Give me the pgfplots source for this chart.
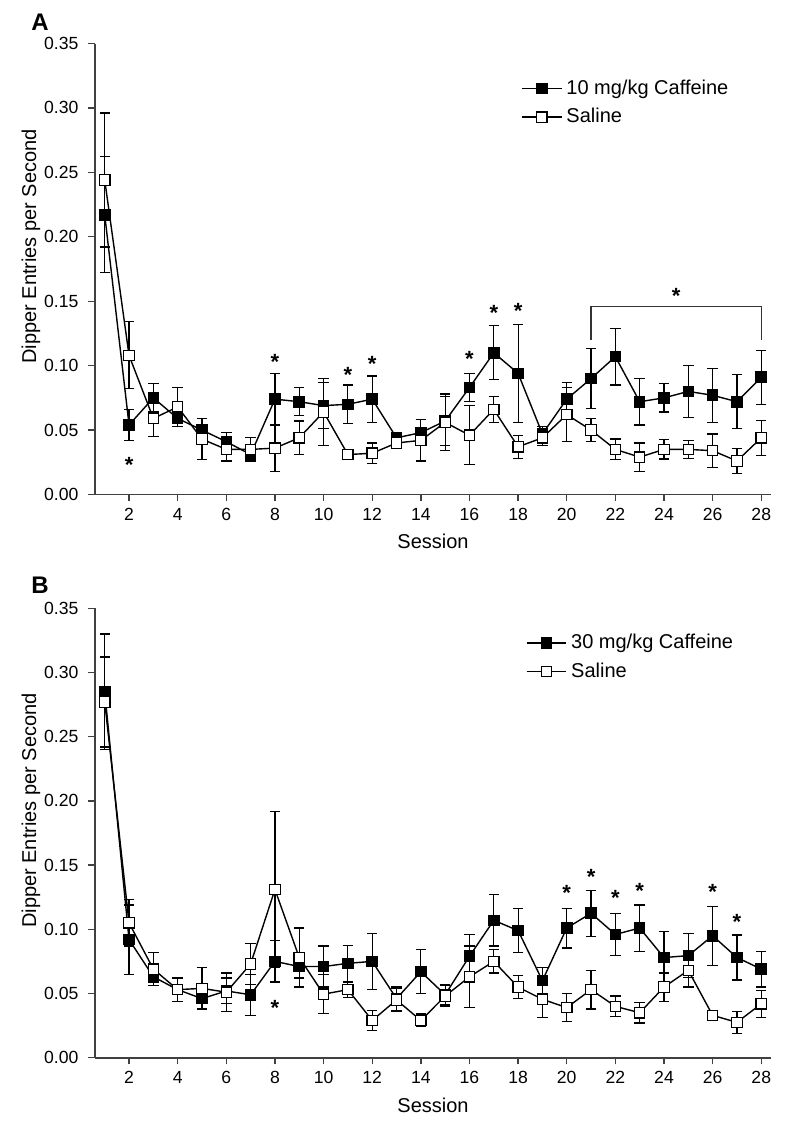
\documentclass[border=0pt]{standalone}
\usepackage{fontspec}
\setmainfont{Liberation Sans}
\usepackage{pgfplots}
\usepackage{pgfplotstable}
\pgfplotsset{compat=1.18}

\pgfplotstableread{
s m e
1 0.217 0.045
2 0.054 0.012
3 0.075 0.011
4 0.059 0.006
5 0.050 0.009
6 0.041 0.007
7 0.031 0.004
8 0.074 0.020
9 0.072 0.011
10 0.069 0.018
11 0.070 0.015
12 0.074 0.018
13 0.044 0.004
14 0.048 0.010
15 0.057 0.019
16 0.083 0.011
17 0.110 0.021
18 0.094 0.038
19 0.047 0.006
20 0.074 0.013
21 0.090 0.023
22 0.107 0.022
23 0.072 0.018
24 0.075 0.011
25 0.080 0.020
26 0.077 0.021
27 0.072 0.021
28 0.091 0.021
}\caffA

\pgfplotstableread{
s m e
1 0.244 0.052
2 0.108 0.026
3 0.059 0.014
4 0.068 0.015
5 0.043 0.016
6 0.035 0.009
7 0.035 0.009
8 0.036 0.018
9 0.044 0.013
10 0.064 0.026
11 0.031 0.002
12 0.032 0.008
13 0.040 0.004
14 0.042 0.016
15 0.056 0.022
16 0.046 0.023
17 0.066 0.010
18 0.037 0.009
19 0.044 0.006
20 0.062 0.021
21 0.050 0.009
22 0.035 0.008
23 0.029 0.011
24 0.035 0.0075
25 0.035 0.007
26 0.034 0.013
27 0.026 0.010
28 0.044 0.0135
}\salA

\pgfplotstableread{
s m e
1 0.285 0.045
2 0.092 0.027
3 0.063 0.007
4 0.053 0.009
5 0.046 0.008
6 0.052 0.010
7 0.049 0.016
8 0.075 0.016
9 0.071 0.009
10 0.071 0.016
11 0.0735 0.014
12 0.075 0.022
13 0.046 0.009
14 0.067 0.017
15 0.049 0.008
16 0.079 0.017
17 0.107 0.020
18 0.099 0.017
19 0.060 0.010
20 0.101 0.0155
21 0.1125 0.018
22 0.096 0.0165
23 0.101 0.018
24 0.078 0.020
25 0.0795 0.017
26 0.095 0.023
27 0.078 0.0175
28 0.069 0.014
}\caffB

\pgfplotstableread{
s m e
1 0.277 0.035
2 0.105 0.018
3 0.069 0.013
4 0.053 0.009
5 0.054 0.016
6 0.051 0.015
7 0.073 0.016
8 0.131 0.061
9 0.078 0.023
10 0.0495 0.015
11 0.053 0.006
12 0.029 0.008
13 0.045 0.009
14 0.029 0.005
15 0.048 0.008
16 0.063 0.024
17 0.075 0.009
18 0.055 0.009
19 0.0455 0.014
20 0.039 0.011
21 0.053 0.015
22 0.040 0.008
23 0.035 0.008
24 0.055 0.011
25 0.068 0.013
26 0.033 0.004
27 0.0275 0.0085
28 0.042 0.0105
}\salB

\tikzset{sigstar/.style={font=\bfseries\fontsize{11}{11}\selectfont, inner sep=0pt, anchor=base, yshift=-6.3pt}}

\begin{document}
\begin{tikzpicture}
\pgfplotsset{
  panel/.style={
    scale only axis, width=338pt,
    xmin=0.6, xmax=28.4, ymin=0, ymax=0.35,
    clip=false,
    axis lines=left,
    axis line style={-, line width=0.8pt, black!75},
    tick align=outside, major tick length=3.3pt,
    tick style={line width=0.7pt, black!75},
    xtick={2,4,...,28},
    ytick={0,0.05,0.1,0.15,0.2,0.25,0.3,0.35},
    /pgf/number format/assume math mode=true,
    ticklabel style={font=\fontsize{8.8}{10}\selectfont},
    yticklabel style={xshift=-1.5pt, /pgf/number format/.cd, fixed, fixed zerofill, precision=2},
    label style={font=\fontsize{10}{12}\selectfont},
    xlabel={Session},
    ylabel={Dipper Entries per Second},
    ylabel style={at={(axis description cs:-0.0947,0.55)}, anchor=center},
    legend cell align=left,
    legend style={draw=none, fill=none, font=\fontsize{10}{12}\selectfont, row sep=1.5pt},
    legend image code/.code={\draw[mark repeat=2,mark phase=2,##1] plot coordinates {(0cm,0cm) (0.35cm,0cm) (0.7cm,0cm)};},
  },
  caff/.style={black, line width=0.7pt, mark=square*, mark size=2.6pt,
    mark options={solid, fill=black, line width=0.6pt},
    error bars/.cd, y dir=both, y explicit,
    error bar style={line width=0.6pt, black},
    error mark options={rotate=90, mark size=2.6pt, line width=0.6pt, black}},
  sal/.style={black, line width=0.7pt, mark=square*, mark size=2.6pt,
    mark options={solid, fill=white, line width=0.6pt},
    error bars/.cd, y dir=both, y explicit,
    error bar style={line width=0.6pt, black},
    error mark options={rotate=90, mark size=2.6pt, line width=0.6pt, black}},
}
\path[use as bounding box] (0,0) rectangle (400pt,566pt);

\begin{axis}[panel, at={(47.5pt,318.75pt)}, anchor=south west, height=225.5pt,
  legend style={at={(rel axis cs:0.621,0.938)}, anchor=north west}]
\addplot[caff] table[x=s, y=m, y error=e] {\caffA};
\addlegendentry{10 mg/kg Caffeine}
\addplot[sal] table[x=s, y=m, y error=e] {\salA};
\addlegendentry{Saline}
\node[sigstar] at (axis cs:2,0.027) {*};
\node[sigstar] at (axis cs:8,0.107) {*};
\node[sigstar] at (axis cs:11,0.097) {*};
\node[sigstar] at (axis cs:12,0.105) {*};
\node[sigstar] at (axis cs:16,0.109) {*};
\node[sigstar] at (axis cs:17,0.145) {*};
\node[sigstar] at (axis cs:18,0.146) {*};
\node[sigstar] at (axis cs:24.5,0.158) {*};
\draw[line width=0.7pt, black!80] (axis cs:21,0.120) |- (axis cs:28,0.146) -- (axis cs:28,0.120);
\end{axis}

\begin{axis}[panel, at={(47.5pt,37.15pt)}, anchor=south west, height=224.7pt,
  legend style={at={(rel axis cs:0.628,0.961)}, anchor=north west}]
\addplot[caff] table[x=s, y=m, y error=e] {\caffB};
\addlegendentry{30 mg/kg Caffeine}
\addplot[sal] table[x=s, y=m, y error=e] {\salB};
\addlegendentry{Saline}
\node[sigstar] at (axis cs:8,0.043) {*};
\node[sigstar] at (axis cs:20,0.132) {*};
\node[sigstar] at (axis cs:21,0.145) {*};
\node[sigstar] at (axis cs:22,0.128) {*};
\node[sigstar] at (axis cs:23,0.134) {*};
\node[sigstar] at (axis cs:26,0.133) {*};
\node[sigstar] at (axis cs:27,0.110) {*};
\end{axis}

\node[font=\bfseries\fontsize{12}{12}\selectfont] at (20pt,555pt) {A};
\node[font=\bfseries\fontsize{12}{12}\selectfont] at (20pt,273.5pt) {B};
\end{tikzpicture}
\end{document}
